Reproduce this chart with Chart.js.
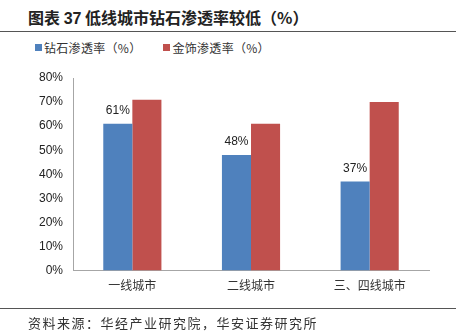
<!DOCTYPE html>
<html>
<head>
<meta charset="utf-8">
<script src="https://cdn.jsdelivr.net/npm/chart.js@4/dist/chart.umd.min.js"></script>
<style>
  body { margin: 0; background: #fff; font-family: "Noto Sans CJK SC", sans-serif; }
  #wrap { position: relative; width: 459px; height: 335px; overflow: hidden; }
  #title { position: absolute; left: 28px; top: 5px; font-size: 16px; font-weight: bold; color: #222; }
  #title .num { font-family: "Liberation Sans", Arial, sans-serif; }
  .rule { position: absolute; left: 0; width: 456px; height: 0; border-top: 1.5px solid #555; }
  #legend { position: absolute; top: 39px; left: 35px; font-size: 12px; color: #333; display: flex; }
  #legend span.item { display: flex; align-items: center; margin-right: 22px; letter-spacing: 0.3px; }
  #legend i { display: inline-block; width: 7px; height: 7px; margin-right: 2px; }
  #source { position: absolute; left: 28px; top: 313px; font-size: 13px; letter-spacing: 1.5px; color: #333; }
  canvas { position: absolute; left: 0; top: 0; }
</style>
</head>
<body>
<div id="wrap">
  <div id="title">图表 <span class="num">37</span> 低线城市钻石渗透率较低（%）</div>
  <div class="rule" style="top:31px"></div>
  <div id="legend"></div>
  <canvas id="chart" width="459" height="335"></canvas>
  <div class="rule" style="top:308px"></div>
  <div id="source">资料来源：华经产业研究院，华安证券研究所</div>
</div>
<script>
const categories = ['一线城市', '二线城市', '三、四线城市'];
const seriesNames = ['钻石渗透率（%）', '金饰渗透率（%）'];
const diamondRate = [61, 48, 37];
const goldRate = [71, 61, 70];
const yTicks = [0, 10, 20, 30, 40, 50, 60, 70, 80];
const colors = ['#4F81BD', '#C0504D'];

// legend in HTML so it can sit above the plot freely
document.getElementById('legend').innerHTML = seriesNames.map((n, i) =>
  `<span class="item"><i style="background:${colors[i]}"></i>${n}</span>`).join('');

// value labels above the diamond bars only
const barLabels = {
  id: 'barLabels',
  afterDatasetsDraw(chart) {
    const ctx = chart.ctx;
    const meta = chart.getDatasetMeta(0);
    ctx.save();
    ctx.font = '12px "Liberation Sans", Arial, sans-serif';
    ctx.fillStyle = '#222';
    ctx.textAlign = 'center';
    ctx.textBaseline = 'bottom';
    meta.data.forEach((bar, i) => {
      ctx.fillText(diamondRate[i] + '%', bar.x, bar.y - 7);
    });
    ctx.restore();
  }
};

new Chart(document.getElementById('chart').getContext('2d'), {
  type: 'bar',
  data: {
    labels: categories,
    datasets: [
      { label: seriesNames[0], data: diamondRate, backgroundColor: colors[0] },
      { label: seriesNames[1], data: goldRate, backgroundColor: colors[1] }
    ]
  },
  options: {
    responsive: false,
    animation: false,
    layout: { padding: { top: 78, right: 30, bottom: 34, left: 29 } },
    plugins: { legend: { display: false }, tooltip: { enabled: false } },
    datasets: { bar: { categoryPercentage: 0.49, barPercentage: 1.0 } },
    scales: {
      x: {
        grid: { display: false, drawTicks: false },
        border: { color: '#A6A6A6' },
        ticks: { color: '#333', padding: 8, font: { size: 12, family: '"Noto Sans CJK SC", sans-serif' } }
      },
      y: {
        min: 0,
        max: 80,
        afterBuildTicks(axis) { axis.ticks = yTicks.map(v => ({ value: v })); },
        grid: { display: false, drawTicks: false },
        border: { color: '#A6A6A6' },
        ticks: {
          color: '#222',
          padding: 10,
          font: { size: 12, family: '"Liberation Sans", Arial, sans-serif' },
          callback: v => v + '%'
        }
      }
    }
  },
  plugins: [barLabels]
});
</script>
</body>
</html>
